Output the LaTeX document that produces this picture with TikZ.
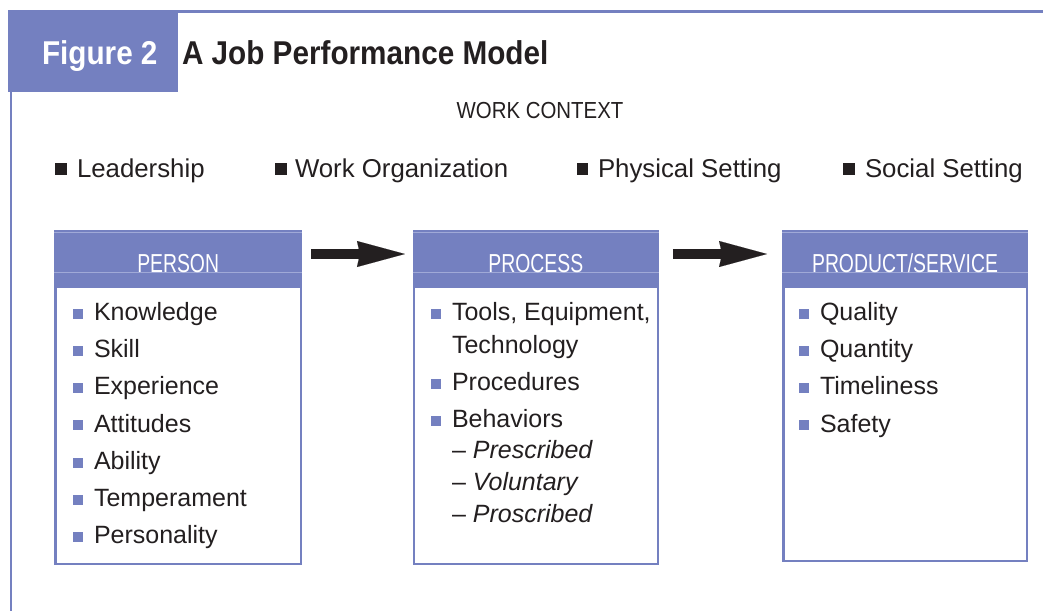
\documentclass[tikz,border=0pt]{standalone}
\usepackage{fontspec}
\setmainfont{Liberation Sans}
\newfontfamily\hdrfont[FakeStretch=0.745]{Liberation Sans}
\newfontfamily\ctxfont[FakeStretch=0.88]{Liberation Sans}
\newfontfamily\ttlfont[FakeStretch=0.9]{Liberation Sans}
\usetikzlibrary{arrows.meta,calc}
\definecolor{jpblue}{RGB}{116,128,192}
\definecolor{jplight}{RGB}{160,169,215}
\definecolor{jpink}{RGB}{35,31,32}
\begin{document}
\begin{tikzpicture}[x=1pt,y=-1pt,
  every node/.style={inner sep=0pt, outer sep=0pt, text=jpink},
  body/.style={font=\fontsize{25}{30}\selectfont, anchor=base west},
  topbody/.style={font=\fontsize{25.8}{30}\selectfont, anchor=base west},
  titletext/.style={font=\ttlfont\bfseries\fontsize{33}{38}\selectfont, anchor=base west},
  jpbox/.style={draw=jpblue, line width=2.5pt, fill=white, rectangle},
  jphead/.style={fill=jpblue, rectangle, minimum height=58pt, anchor=north, yshift=1.25pt},
  hdrtext/.style={font=\hdrfont\fontsize{26}{30}\selectfont, text=white, anchor=base},
  lightline/.style={draw=jplight, line width=0.8pt},
  bul/.style={fill=jpblue, rectangle, minimum size=10pt},
  topbul/.style={fill=jpink, rectangle, minimum size=11.5pt},
  bigarrow/.style={draw=jpink, line width=10pt, -{Stealth[length=48pt, width=26pt, inset=3pt, line width=0.1pt]}},
  frameline/.style={draw=jpblue, line width=3pt}
]
\useasboundingbox (0,0) rectangle (1043,611);

% frame and title
\node[fill=jpblue, rectangle, minimum width=170pt, minimum height=81.8pt, anchor=north west] (figbox) at (8,10.2) {};
\coordinate (topend) at (1043,11.7);
\coordinate (leftend) at (11.2,611);
\draw[frameline] (figbox.north west |- topend) -- (topend);
\draw[frameline, line width=2.5pt] (figbox.south west -| leftend) -- (leftend);
\node[titletext, text=white] (figlabel) at (42,64) {Figure 2};
\node[titletext] (title) at (182,64) {A Job Performance Model};

% work context
\node[font=\ctxfont\fontsize{23.2}{28}\selectfont, anchor=base] (ctx) at (540,118) {WORK CONTEXT};
\node[topbul] (tb1) at (61,169) {};
\node[topbody] (tt1) at (77,177) {Leadership};
\node[topbul] (tb2) at (281,169) {};
\node[topbody] (tt2) at (295,177) {Work Organization};
\node[topbul] (tb3) at (582.5,169) {};
\node[topbody] (tt3) at (598,177) {Physical Setting};
\node[topbul] (tb4) at (849,169) {};
\node[topbody] (tt4) at (865,177) {Social Setting};

% boxes
\node[jpbox, minimum width=245.3pt, minimum height=332.6pt] (person) at (178.15,397.5) {};
\node[jpbox, minimum width=243.8pt, minimum height=332.6pt] (process) at (535.85,397.5) {};
\node[jpbox, minimum width=243.5pt, minimum height=329.5pt] (product) at (905,396) {};

\node[jphead, minimum width=247.8pt] (personhead) at (person.north) {};
\node[jphead, minimum width=246.3pt] (processhead) at (process.north) {};
\node[jphead, minimum width=246pt] (producthead) at (product.north) {};
\foreach \h in {personhead,processhead,producthead}{
  \draw[lightline] ([yshift=-2.7pt]\h.north west) -- ([yshift=-2.7pt]\h.north east);
  \draw[lightline] ([yshift=-42pt]\h.north west) -- ([yshift=-42pt]\h.north east);
}
\node[hdrtext] (personlabel) at (178.15,272) {PERSON};
\node[hdrtext] (processlabel) at (535.85,272) {PROCESS};
\node[hdrtext] (productlabel) at (905,272) {PRODUCT/SERVICE};

% arrows
\coordinate (arrowy) at (0,254);
\draw[bigarrow, shorten <=10.2pt, shorten >=9pt] (person.east |- arrowy) -- (process.west |- arrowy);
\draw[bigarrow, shorten <=15.2pt, shorten >=16.2pt] (process.east |- arrowy) -- (product.west |- arrowy);

% person items
\foreach \t [count=\i, evaluate=\i as \yy using 320+(\i-1)*37.33] in {Knowledge,Skill,Experience,Attitudes,Ability,Temperament,Personality}{
  \node[bul] (pb\i) at (78,\yy-6.5) {};
  \node[body] (pt\i) at (94,\yy) {\t};
}

% process items
\node[bul] (rb1) at (436,313.5) {};
\node[body] (rt1) at (452,320) {Tools, Equipment,};
\node[body] (rt1b) at (452,353) {Technology};
\node[bul] (rb2) at (436,383.5) {};
\node[body] (rt2) at (452,390) {Procedures};
\node[bul] (rb3) at (436,420.5) {};
\node[body] (rt3) at (452,427) {Behaviors};
\node[body] (rs1) at (452,458) {– \textit{Prescribed}};
\node[body] (rs2) at (452,490) {– \textit{Voluntary}};
\node[body] (rs3) at (452,522) {– \textit{Proscribed}};

% product items
\foreach \t [count=\i, evaluate=\i as \yy using 320+(\i-1)*37.33] in {Quality,Quantity,Timeliness,Safety}{
  \node[bul] (qb\i) at (804,\yy-6.5) {};
  \node[body] (qt\i) at (820,\yy) {\t};
}
\end{tikzpicture}
\end{document}
